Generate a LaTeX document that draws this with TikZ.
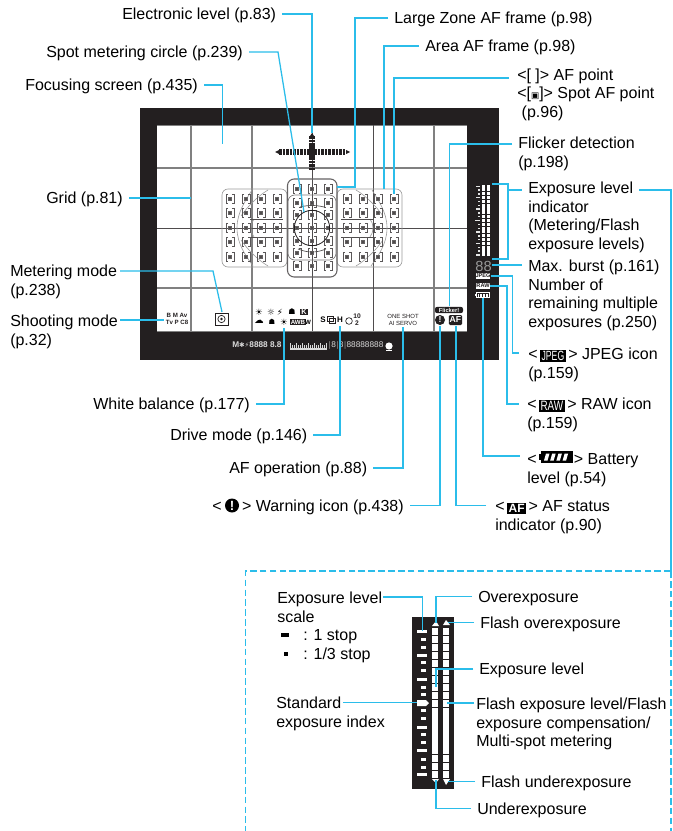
\documentclass[tikz,border=0pt]{standalone}
\usepackage{fontspec}
\usepackage{graphicx}
\setmainfont{Liberation Sans}
\newfontfamily\dejafont{DejaVu Sans}
\definecolor{cy}{HTML}{2BBDEA}
\definecolor{vfblack}{HTML}{231F20}
\definecolor{gridgray}{HTML}{808080}
\definecolor{framegray}{HTML}{9A9A9A}
\tikzset{
  lab/.style={anchor=west,inner xsep=4.5pt,inner ysep=0pt,text height=8.6pt,text depth=0pt,font=\fontsize{12}{14}\selectfont,text=black},
  mlab/.style={anchor=north west,align=left,inner sep=0pt,font=\fontsize{12}{14}\selectfont,text=black},
  conn/.style={draw=cy,line width=0.95pt},
  gridline/.style={draw=gridgray,line width=0.9pt},
  darkline/.style={draw=vfblack!80,line width=0.65pt},
  zoneline/.style={draw=framegray,line width=0.45pt},
  tiny/.style={inner sep=0pt,font=\fontsize{4.6}{5.2}\selectfont\bfseries,text=vfblack,align=center},
  wtiny/.style={inner sep=0pt,font=\fontsize{5.6}{6}\selectfont,text=white!85!black},
  afpt/.pic={
    \draw[vfblack!75,line width=0.4pt] (-1.8,-4.6) -- (-4,-4.6) -- (-4,4.6) -- (-1.8,4.6);
    \draw[vfblack!75,line width=0.4pt] (1.8,-4.6) -- (4,-4.6) -- (4,4.6) -- (1.8,4.6);
    \draw[vfblack!70,line width=0.3pt] (-1.5,-1.5) rectangle (1.5,1.5);
    \fill[vfblack!80] (-0.6,-0.6) rectangle (0.6,0.6);
  }
}
\newcommand{\icobox}[1]{{\setlength{\fboxsep}{1pt}\raisebox{-1.2pt}{\colorbox{black}{\textcolor{white}{#1}}}}}
\newcommand{\sideblock}{%
  \draw[zoneline,rounded corners=4.5pt] (222,189) rectangle (287,267);
  \draw[zoneline] (252,190) .. controls (246,200) and (237,212) .. (237,228) .. controls (237,244) and (246,256) .. (253,266);
  \draw[zoneline] (268,190) .. controls (258,196) and (248,206) .. (241,216);
  \draw[zoneline] (268,266) .. controls (258,260) and (248,250) .. (241,240);
  \draw[zoneline] (254,219) .. controls (250,224) and (250,232) .. (254,237);
  \draw[vfblack!80,line width=0.5pt] (250,219) -- (283,219) (250,237) -- (283,237);
  \foreach \cx in {230,246,261,277}{\foreach \cy in {199,213,228,242,257}{\pic at (\cx,\cy) {afpt};}}
}
\begin{document}
\begin{tikzpicture}[x=0.75pt,y=-0.75pt]
\useasboundingbox (0,0) rectangle (672,831);
\fill[white] (0,0) rectangle (672,831);
%--- viewfinder frame
\fill[vfblack] (140,108) rectangle (499,360);
\fill[white] (157,125) rectangle (467,331);
\draw[gridgray,line width=0.5pt] (157,125) -- (467,125) (157,331) -- (467,331);
\draw[gridline] (191,125) -- (191,331) (252,125) -- (252,331) (434,125) -- (434,331);
\draw[gridline] (157,168) -- (467,168) (157,288) -- (467,288);
\draw[darkline] (157,228) -- (467,228) (373,125) -- (373,331) (312,125) -- (312,331);
%--- AF zones
\sideblock
\begin{scope}[xscale=-1,xshift=-468pt]\sideblock\end{scope}
\draw[vfblack!70,line width=0.8pt,rounded corners=5pt] (287.5,179) rectangle (337,277);
\draw[vfblack!60,line width=0.5pt,rounded corners=5pt] (288,195) rectangle (336,260);
\foreach \cx in {297,312,328}{\foreach \cy in {189,203,215,228,241,253,266}{\pic at (\cx,\cy) {afpt};}}
\node[circle,draw=vfblack,line width=0.6pt,minimum size=26.5pt,inner sep=0pt] (spotcircle) at (312,228) {};
\draw[vfblack!80,line width=0.5pt] (300,207) .. controls (308,205) and (316,205) .. (324,207);
\draw[vfblack!80,line width=0.5pt] (298,249) .. controls (308,253) and (316,253) .. (326,249);
%--- electronic level
\draw[vfblack,line width=4.4pt,dash pattern=on 1.9pt off 0.75pt] (279,152) -- (346,152);
\draw[vfblack,line width=4.4pt,dash pattern=on 1.9pt off 0.75pt] (312,136) -- (312,170);
\fill[vfblack] (309,143) rectangle (315,160);
\fill[vfblack] (275,152) -- (279,150) -- (279,154) -- cycle;
\fill[vfblack] (350,152) -- (346,150) -- (346,154) -- cycle;
\fill[vfblack] (312,133) -- (310,136) -- (314,136) -- cycle;
%--- bottom info in white area
\node[tiny] (shootmodes) at (177,319) {B M Av\\[-0.4pt]Tv P C8};
\draw[vfblack,line width=0.5pt] (215,313) rectangle (228,325);
\node[circle,draw=vfblack,line width=0.5pt,minimum size=5.5pt,inner sep=0pt,fill=white] (meticon) at (221.5,319) {};
\fill[vfblack] (221.5,319) circle (1.4);
\node[inner sep=0pt,font=\dejafont\fontsize{6.5}{7}\selectfont] (wb1) at (259,312) {☀};
\node[inner sep=0pt,font=\dejafont\fontsize{6.5}{7}\selectfont] (wb2) at (271,312) {☼};
\node[inner sep=0pt,font=\dejafont\fontsize{6.5}{7}\selectfont] (wb3) at (280,312) {⚡};
\node[inner sep=0pt,font=\dejafont\fontsize{6}{7}\selectfont] (wb4) at (292,312) {☗};
\node[fill=vfblack,text=white,inner sep=0.7pt,font=\fontsize{5.5}{6}\selectfont\bfseries] (wbk) at (304,312) {K};
\node[inner sep=0pt,font=\dejafont\fontsize{7}{7}\selectfont] (wb5) at (259,322) {☁};
\node[inner sep=0pt,font=\dejafont\fontsize{5.5}{7}\selectfont] (wb6) at (272,322) {☗};
\node[inner sep=0pt,font=\dejafont\fontsize{6.5}{7}\selectfont] (wb7) at (284,322) {☀};
\node[fill=vfblack,text=white,inner sep=0.6pt,font=\fontsize{4.6}{5}\selectfont\bfseries] (wbawb) at (298,322) {AWB};
\node[inner sep=0pt,font=\fontsize{4.6}{5}\selectfont\bfseries] (wbw) at (308,322) {W};
\node[inner sep=0pt,font=\fontsize{6}{7}\selectfont\bfseries,anchor=west] (drive) at (320,320) {S};
\draw[vfblack,line width=0.5pt] (327,316) rectangle (333,321) (329,318) rectangle (335,323);
\node[inner sep=0pt,font=\fontsize{6}{7}\selectfont\bfseries] (drvh) at (340,320) {H};
\node[circle,draw=vfblack,line width=0.5pt,minimum size=5pt,inner sep=0pt] (timer) at (349,321) {};
\node[tiny,font=\fontsize{5}{5.5}\selectfont\bfseries] (ten) at (357,320) {10\\2};
\node[tiny,font=\fontsize{4.5}{5}\selectfont] (afop) at (403,320) {ONE SHOT\\AI SERVO};
\node[fill=vfblack,rounded corners=1.5pt,text=white,inner sep=0pt,minimum width=21pt,minimum height=4.6pt,font=\fontsize{4.3}{4.5}\selectfont\bfseries] (flick) at (449,310) {Flicker!};
\node[circle,fill=vfblack,text=white,inner sep=0pt,minimum size=7.5pt,font=\fontsize{6.5}{7}\selectfont\bfseries] (warn) at (440,320) {!};
\node[fill=vfblack,rounded corners=1pt,text=white,inner sep=0pt,minimum width=10pt,minimum height=7.5pt,font=\fontsize{6.5}{7}\selectfont\bfseries] (afstat) at (455.5,320) {AF};
%--- strip under the screen
\node[wtiny,anchor=west,font=\fontsize{6.2}{6.5}\selectfont\bfseries] (stripm) at (232,345) {M{\dejafont\fontsize{5}{6}\selectfont ✱⚡}8888 8.8};
\fill[white!85!black] (290,348) rectangle (327,350);
\foreach \i in {0,...,18}{\fill[white!85!black] ({290+2*\i},{mod(\i,3)==0?343:345}) rectangle ({290.9+2*\i},348);}
\node[wtiny,anchor=west,font=\fontsize{6.2}{6.5}\selectfont] (stripr) at (328,345) {$|$8$|$8$|$88888888};
\fill[white] (389,346) circle (3.6);
\fill[white] (386,350) rectangle (392,351);
%--- right-hand meter of viewfinder
\foreach \i in {0,...,18}{
  \fill[white] (481.5,{184.5+3.82*\i}) rectangle (485,{187.6+3.82*\i});
  \fill[white] (486.5,{184.5+3.82*\i}) rectangle (490,{187.6+3.82*\i});
}
\foreach \i/\w in {0/4,1/2,2/2,3/4,4/2,5/2,6/4,7/2,8/2,9/5,10/2,11/2,12/4,13/2,14/2,15/4,16/2,17/2,18/4}{
  \fill[white!90!black] ({479.5-\w},{185.5+3.82*\i}) rectangle (479.5,{186.9+3.82*\i});
}
\node[wtiny,font=\fontsize{11}{11}\selectfont,text=white!60!black] (burst) at (483.5,266) {88};
\node[fill=white,text=vfblack,inner sep=0pt,minimum width=10.5pt,minimum height=4.8pt,font=\fontsize{4.2}{4.5}\selectfont\bfseries] (jpegsm) at (483,276) {JPEG};
\node[fill=white,text=vfblack,inner sep=0pt,minimum width=10.5pt,minimum height=4.8pt,font=\fontsize{4.2}{4.5}\selectfont\bfseries] (rawsm) at (483,286) {RAW};
\draw[white,line width=0.5pt] (476,292.5) rectangle (489,297.5);
\fill[white] (474.5,293.7) rectangle (476,296.3);
\foreach \i in {0,1,2,3}{\fill[white] ({477.5+2.8*\i},293.5) rectangle ({479.3+2.8*\i},296.5);}
\coordinate (battsm) at (483,298);
%--- upper labels
\node[lab] (elec) at (116,14) {Electronic level (p.83)};
\node[lab] (large) at (388,18) {Large Zone AF frame (p.98)};
\node[lab] (spot) at (40,52) {Spot metering circle (p.239)};
\node[lab] (area) at (419,46) {Area AF frame (p.98)};
\node[mlab] (afp) at (517,67) {\strut<[ ]> AF point\\\strut<[{\dejafont\fontsize{6.5}{7}\selectfont ▣}]> Spot AF point\\\strut\ (p.96)};
\node[lab] (focus) at (19,85) {Focusing screen (p.435)};
\node[mlab] (flickl) at (518,135) {\strut Flicker detection\\\strut(p.198)};
\node[lab] (gridl) at (40,198) {Grid (p.81)};
\node[mlab] (metl) at (10,263) {\strut Metering mode\\\strut(p.238)};
\node[mlab] (shootl) at (10,313) {\strut Shooting mode\\\strut(p.32)};
\node[mlab] (expind) at (528,180) {\strut Exposure level\\\strut indicator\\\strut(Metering/Flash\\\strut exposure levels)};
\node[mlab] (burstl) at (528,258) {\strut Max. burst (p.161)\\\strut Number of\\\strut remaining multiple\\\strut exposures (p.250)};
\node[mlab] (jpegl) at (528,346) {\strut<\,\icobox{\resizebox{17pt}{7pt}{JPEG}}\,> JPEG icon\\\strut(p.159)};
\node[mlab] (rawl) at (527,396) {\strut<\,\icobox{\resizebox{17pt}{7pt}{RAW}}\,> RAW icon\\\strut(p.159)};
\node[mlab] (battl) at (527,451) {\strut<\hspace{28pt}> Battery\\\strut level (p.54)};
\fill[black] (539,454) rectangle (541,460);
\fill[black] (541,451) rectangle (573,463);
\foreach \i in {0,1,2,3}{\fill[white] ({546+6.2*\i},453.5) -- ({549.5+6.2*\i},453.5) -- ({547.5+6.2*\i},460.5) -- ({544+6.2*\i},460.5) -- cycle;}
\node[lab] (wbl) at (87,404) {White balance (p.177)};
\node[lab] (drl) at (164,435) {Drive mode (p.146)};
\node[lab] (afol) at (223,468) {AF operation (p.88)};
\node[lab,anchor=east,inner xsep=0pt] (warnl) at (404,505.5) {> Warning icon (p.438)};
\node[lab] (warnlt) at (206,505.5) {<};
\node[circle,fill=black,text=white,inner sep=0pt,minimum size=10.5pt,font=\fontsize{10}{10}\selectfont\bfseries] (warnbig) at (232,505.5) {!};
\node[mlab] (afsl) at (495,498) {\strut<\,\icobox{\fontsize{9}{9}\selectfont\bfseries AF}\,> AF status\\\strut indicator (p.90)};
%--- connector end points
\coordinate (tElec) at (312,133);
\coordinate (tLarge) at (337,187);
\coordinate (bLarge) at (355,187);
\coordinate (tSpotB) at (278,52);
\coordinate (tSpot) at (304,212);
\coordinate (tArea) at (384,189);
\coordinate (sAfp) at (509,78);
\coordinate (tAfp) at (394,194);
\coordinate (tFocus) at (222.5,144);
\coordinate (tGrid) at (191,198);
\coordinate (sMet) at (120,271);
\coordinate (bMet) at (213,271);
\coordinate (tMet) at (222,312);
\coordinate (sShoot) at (120,320);
\coordinate (tShoot) at (164,320);
\coordinate (tWb) at (284,328);
\coordinate (tDr) at (340,326);
\coordinate (tAfo) at (403,327);
\coordinate (sWarn) at (410,505.5);
\coordinate (tWarn) at (440,326);
\coordinate (sAfs) at (486,505.5);
\coordinate (tAfs) at (456,326);
\coordinate (sFlick) at (512,144);
\coordinate (tFlick) at (449.5,306);
\coordinate (mTop) at (492,184);
\coordinate (mBot) at (492,259);
\coordinate (mKnee) at (508,190);
\coordinate (sInd) at (522,190);
\coordinate (sBurst) at (522,265);
\coordinate (tBurst) at (492,265);
\coordinate (sJpeg) at (519,353);
\coordinate (sRaw) at (519,404);
\coordinate (sBatt) at (520,456);
\coordinate (sLong) at (639,190);
\coordinate (kLong) at (671,190);
\coordinate (dashR) at (671,571);
\coordinate (dashL) at (245.5,571);
\coordinate (dashLB) at (245.5,831);
\coordinate (dashRB) at (671,831);
%--- connectors
\draw[conn] (elec.east) -| (tElec);
\draw[conn] (large.west) -| (bLarge) -- (tLarge);
\draw[conn] (spot.east) -- (tSpotB) -- (tSpot);
\draw[conn] (area.west) -| (tArea);
\draw[conn] (sAfp) -| (tAfp);
\draw[conn] (focus.east) -| (tFocus);
\draw[conn] (gridl.east) -- (tGrid);
\draw[conn] (sMet) -- (bMet) -- (tMet);
\draw[conn] (sShoot) -- (tShoot);
\draw[conn] (wbl.east) -| (tWb);
\draw[conn] (drl.east) -| (tDr);
\draw[conn] (afol.east) -| (tAfo);
\draw[conn] (sWarn) -| (tWarn);
\draw[conn] (sAfs) -| (tAfs);
\draw[conn] (sFlick) -| (tFlick);
\draw[conn] (mTop) -- (508,184) -- (508,259) -- (mBot);
\draw[conn] (mKnee) -- (sInd);
\draw[conn] (tBurst) -- (sBurst);
\draw[conn] (jpegsm.east) -- (512.5,276) |- (sJpeg);
\draw[conn] (rawsm.east) -- (507,286) |- (sRaw);
\draw[conn] (battsm) |- (sBatt);
\draw[conn] (sLong) -- (kLong) -- (dashR);
\draw[conn,dash pattern=on 5pt off 2.4pt] (dashR) -- (dashL) -- (dashLB);
\draw[conn,dash pattern=on 5pt off 2.4pt] (dashR) -- (dashRB);
%--- lower meter
\fill[vfblack] (412,617) rectangle (454,789);
\foreach \i in {0,...,18}{
  \fill[white] (432,{628+7.95*\i}) rectangle (438,{635.2+7.95*\i});
  \fill[white] (443,{628+7.95*\i}) rectangle (449,{635.2+7.95*\i});
}
\foreach \yy/\xa/\xb in {631/417/427,639/421/426,647/421/426,655/417/427,662/421/426,670/421/426,679/417/427,687/421/426,694/421/426,710/421/426,718/421/426,727/417/427,734/421/426,742/421/426,750/417/427,759/421/426,767/421/426,774/417/427}{
  \fill[white] (\xa,{\yy-1.5}) rectangle (\xb,{\yy+1.5});
}
\fill[white] (417,700) -- (426,700) -- (429,703) -- (426,706) -- (417,706) -- cycle;
\fill[white] (432,626) -- (436,621) -- (439,626) -- cycle;
\fill[white] (443,625) -- (446,620) -- (450,625) -- cycle;
\fill[white] (432,779) -- (439,779) -- (436,783) -- cycle;
\fill[white] (443,779) -- (450,779) -- (446,785) -- cycle;
%--- lower labels
\node[mlab] (els) at (277,590) {\strut Exposure level\\\strut scale};
\node[lab] (stop1) at (297,635) {: 1 stop};
\node[lab] (stop3) at (297,654) {: 1/3 stop};
\node[fill=black,inner sep=0pt,minimum width=6pt,minimum height=2.6pt] (mark1) at (285,635) {};
\node[fill=black,inner sep=0pt,minimum width=3pt,minimum height=2.6pt] (mark3) at (286,654) {};
\node[mlab] (std) at (276,695) {\strut Standard\\\strut exposure index};
\node[lab] (over) at (472,596.5) {Overexposure};
\node[lab] (fover) at (474,622.5) {Flash overexposure};
\node[lab] (expl) at (473,669) {Exposure level};
\node[mlab] (fexp) at (476,696) {\strut Flash exposure level/Flash\\\strut exposure compensation/\\\strut Multi-spot metering};
\node[lab] (funder) at (475,781.5) {Flash underexposure};
\node[lab] (under) at (471,808.5) {Underexposure};
\coordinate (sEls) at (383,597);
\coordinate (tEls) at (422.5,631);
\coordinate (tOver) at (436,623);
\coordinate (tFover) at (448,622.5);
\coordinate (tExpl) at (436,687);
\coordinate (sStd) at (343,702.5);
\coordinate (tStd) at (417,702.5);
\coordinate (sFexp) at (474,703);
\coordinate (tFexp) at (447,703);
\coordinate (tFunder) at (448,781.5);
\coordinate (tUnder) at (436,780);
\draw[conn] (sEls) -| (tEls);
\draw[conn] (over.west) -| (tOver);
\draw[conn] (fover.west) -- (tFover);
\draw[conn] (expl.west) -| (tExpl);
\draw[conn] (sStd) -- (tStd);
\draw[conn] (sFexp) -- (tFexp);
\draw[conn] (funder.west) -- (tFunder);
\draw[conn] (under.west) -| (tUnder);
\end{tikzpicture}
\end{document}
